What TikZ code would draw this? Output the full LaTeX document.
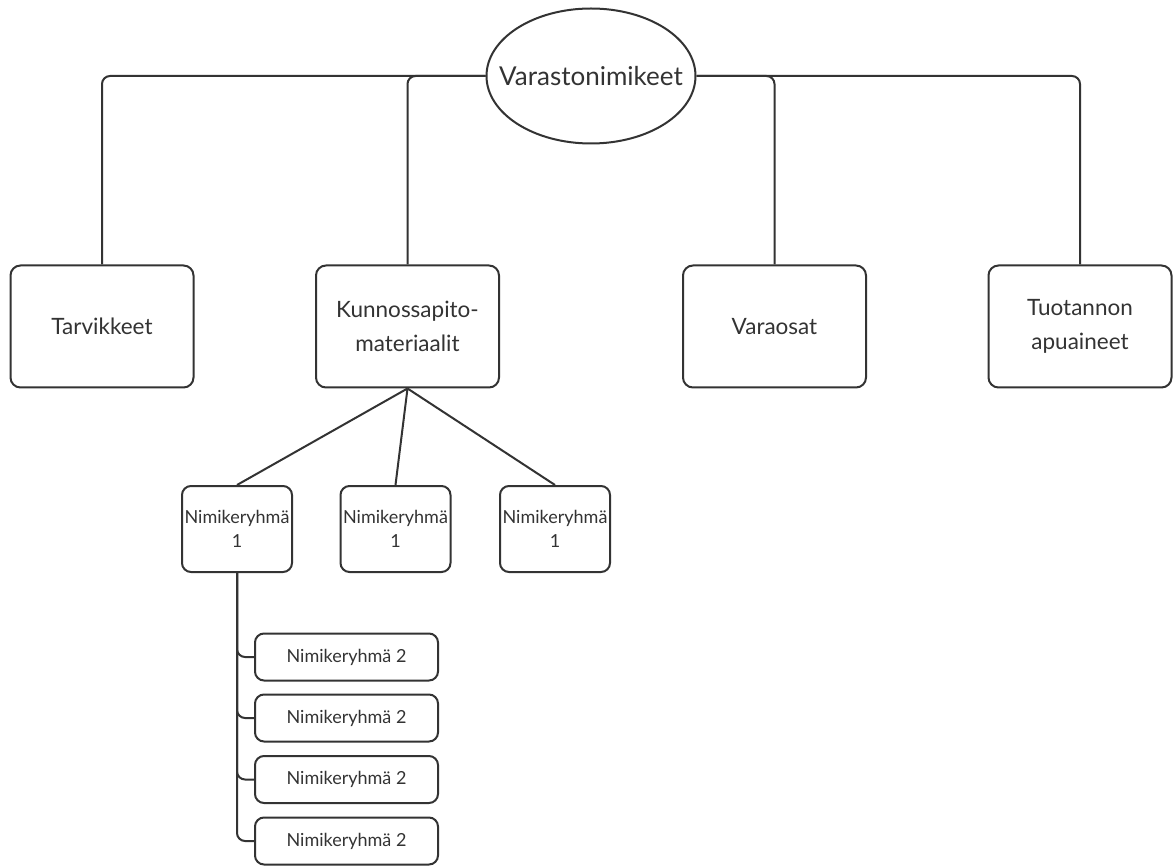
\documentclass[tikz,border=0pt]{standalone}
\usepackage{fontspec}
\setmainfont{Lato}
\usetikzlibrary{shapes.geometric}
\definecolor{ink}{HTML}{333333}
\tikzset{
  link/.style={draw=ink, line width=2pt},
  elbow/.style={link, rounded corners=8pt},
  bigbox/.style={draw=ink, line width=2pt, rounded corners=10pt, minimum width=183pt, minimum height=122pt,
    align=center, text=ink, font=\fontsize{22.5}{34}\selectfont, inner sep=0pt},
  midbox/.style={draw=ink, line width=2pt, rounded corners=9pt, minimum width=110pt, minimum height=86pt,
    align=center, text=ink, font=\fontsize{18}{23.5}\selectfont, inner sep=0pt},
  smallbox/.style={draw=ink, line width=2pt, rounded corners=9pt, minimum width=183pt, minimum height=47pt,
    align=center, text=ink, font=\fontsize{18}{20}\selectfont, inner sep=0pt},
}
\begin{document}
\begin{tikzpicture}[x=1pt, y=-1pt]
\useasboundingbox (0,0) rectangle (1173,866);
% root
\node[ellipse, draw=ink, line width=2pt, minimum width=209pt, minimum height=135pt, inner sep=0pt,
  text=ink, font=\fontsize{26}{30}\selectfont] (root) at (591,76) {\makebox[0pt]{Varastonimikeet}};
% main categories
\node[bigbox] (tarv) at (102,326.5) {Tarvikkeet};
\node[bigbox] (kunn) at (407.5,326.5) {Kunnossapito-\\materiaalit};
\node[bigbox] (vara) at (774.5,326.5) {Varaosat};
\node[bigbox] (tuot) at (1080,326.5) {Tuotannon\\apuaineet};
% connectors from root
\draw[elbow] (root.west) -| (tarv.north);
\draw[elbow] (root.west) -| (kunn.north);
\draw[elbow] (root.east) -| (vara.north);
\draw[elbow] (root.east) -| (tuot.north);
% first-level item groups
\node[midbox] (ga) at (237,529) {Nimikeryhmä\\1};
\node[midbox] (gb) at (395.5,529) {Nimikeryhmä\\1};
\node[midbox] (gc) at (555,529) {Nimikeryhmä\\1};
\draw[link] (kunn.south) -- (ga.north);
\draw[link] (kunn.south) -- (gb.north);
\draw[link] (kunn.south) -- (gc.north);
% second-level item groups
\node[smallbox] (s1) at (346.5,657) {Nimikeryhmä 2};
\node[smallbox] (s2) at (346.5,718) {Nimikeryhmä 2};
\node[smallbox] (s3) at (346.5,779.5) {Nimikeryhmä 2};
\node[smallbox] (s4) at (346.5,841) {Nimikeryhmä 2};
\draw[elbow] (ga.south) |- (s1.west);
\draw[elbow] (ga.south) |- (s2.west);
\draw[elbow] (ga.south) |- (s3.west);
\draw[elbow] (ga.south) |- (s4.west);
\end{tikzpicture}
\end{document}
